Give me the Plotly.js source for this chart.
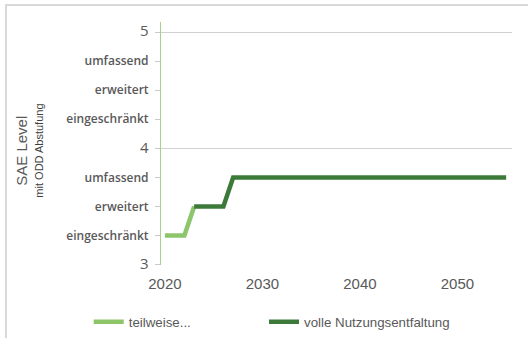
<!DOCTYPE html>
<html>
<head>
<meta charset="utf-8">
<script src="https://cdn.plot.ly/plotly-3.0.1.min.js"></script>
<style>
  html, body { margin: 0; padding: 0; background: #fff; }
  #wrap { position: relative; width: 528px; height: 338px; }
  #chart { width: 528px; height: 338px; }
  #frame { position: absolute; left: 5px; top: 4px; right: 0; bottom: 0;
           border-top: 2px solid #d9d9d9; border-left: 2px solid #d9d9d9; pointer-events: none; }
</style>
</head>
<body>
<div id="wrap"><div id="chart"></div><div id="frame"></div></div>
<script>
// Data
const teilName = "teilweise...";
const teilYears = [2020, 2021, 2022, 2023];
const teilLevels = [3.25, 3.25, 3.25, 3.5];

const vollName = "volle Nutzungsentfaltung";
const vollYears = [2023, 2024, 2025, 2026, 2027, 2028, 2029, 2030, 2031, 2032, 2033,
  2034, 2035, 2036, 2037, 2038, 2039, 2040, 2041, 2042, 2043, 2044, 2045, 2046,
  2047, 2048, 2049, 2050, 2051, 2052, 2053, 2054, 2055];
const vollLevels = [3.5, 3.5, 3.5, 3.5, 3.75, 3.75, 3.75, 3.75, 3.75, 3.75, 3.75,
  3.75, 3.75, 3.75, 3.75, 3.75, 3.75, 3.75, 3.75, 3.75, 3.75, 3.75, 3.75, 3.75,
  3.75, 3.75, 3.75, 3.75, 3.75, 3.75, 3.75, 3.75, 3.75];

const yTickVals = [3, 3.25, 3.5, 3.75, 4, 4.25, 4.5, 4.75, 5];
const yTickText = ["3", "eingeschränkt", "erweitert", "umfassend", "4",
  "eingeschränkt", "erweitert", "umfassend", "5"];
const yGridVals = [3, 4, 5];
const xTickVals = [2020, 2030, 2040, 2050];
const yTitle = "SAE Level";
const ySubTitle = "mit ODD Abstufung";

const gray = "#595959";
const isNum = t => /^\d+$/.test(t);
const tickTextHtml = yTickText.map(t => isNum(t)
  ? "<span style='font-size:15px;font-weight:normal'>" + t + "</span>"
  : t);

const traces = [
  { x: teilYears, y: teilLevels, name: teilName, type: "scatter", mode: "lines",
    legend: "legend",
    line: { color: "#8dc56b", width: 4.5 } },
  { x: vollYears, y: vollLevels, name: vollName, type: "scatter", mode: "lines",
    yaxis: "y2", legend: "legend2",
    line: { color: "#3c7a3a", width: 4.5 } }
];

const yRange = [2.997, 5.086];
const legendBase = {
  orientation: "h", xref: "container", yref: "container",
  xanchor: "left", yanchor: "middle", y: 0.047,
  font: { size: 13.3, color: gray }, bgcolor: "rgba(0,0,0,0)"
};
const layout = {
  width: 528, height: 338,
  margin: { l: 161, r: 16, t: 22, b: 73 },
  paper_bgcolor: "#fff", plot_bgcolor: "#fff",
  font: { family: "Liberation Sans, Arial, sans-serif", color: gray },
  showlegend: true,
  legend: Object.assign({}, legendBase, { x: 0.168 }),
  legend2: Object.assign({}, legendBase, { x: 0.5 }),
  xaxis: {
    range: [2019.6, 2055.6], tickvals: xTickVals, ticks: "",
    showgrid: false, zeroline: false, showline: false,
    tickfont: { size: 15, color: gray }, ticklabelstandoff: 8
  },
  yaxis: {
    range: yRange, tickvals: yGridVals, showticklabels: false, ticks: "",
    showgrid: true, gridcolor: "#d0d0d0", gridwidth: 1,
    zeroline: false, showline: false
  },
  yaxis2: {
    overlaying: "y", side: "left", range: yRange,
    tickvals: yTickVals, ticktext: tickTextHtml,
    ticks: "outside", ticklen: 5, tickcolor: "#c9c9c9", tickwidth: 1,
    showgrid: false, zeroline: false,
    showline: true, linecolor: "#a9d18e", linewidth: 1,
    tickfont: { size: 12, color: gray, family: "Open Sans, sans-serif", weight: 600 },
    ticklabelstandoff: 4
  },
  annotations: [
    { text: yTitle, xref: "paper", yref: "paper", x: -0.396, y: 0.47, textangle: -90,
      xanchor: "center", yanchor: "middle",
      showarrow: false, font: { size: 15, color: gray } },
    { text: ySubTitle, xref: "paper", yref: "paper", x: -0.348, y: 0.47, textangle: -90,
      xanchor: "center", yanchor: "middle",
      showarrow: false, font: { size: 11, color: "#404040" } }
  ]
};

Plotly.newPlot("chart", traces, layout, { displayModeBar: false, staticPlot: true });
</script>
</body>
</html>
